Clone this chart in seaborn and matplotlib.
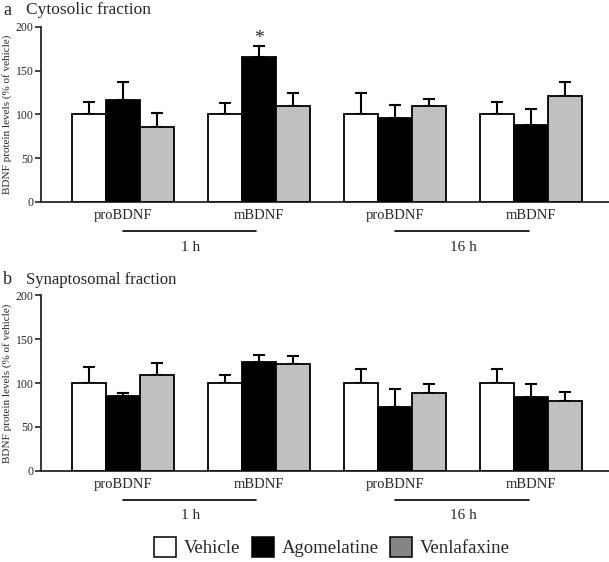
import matplotlib
matplotlib.use("Agg")
import matplotlib.pyplot as plt
import matplotlib.transforms as mtransforms
from matplotlib.patches import Patch
import seaborn as sns
import pandas as pd
import numpy as np

sns.set_style("ticks")
plt.rcParams['font.family'] = ['Liberation Serif', 'DejaVu Serif']

groups = ["proBDNF 1 h", "mBDNF 1 h", "proBDNF 16 h", "mBDNF 16 h"]
group_labels = ["proBDNF", "mBDNF", "proBDNF", "mBDNF"]
treatments = ["Vehicle", "Agomelatine", "Venlafaxine"]
time_labels = ["1 h", "16 h"]

# Panel a: cytosolic fraction (means and upper SEM tips)
cyto_vehicle = [100, 100, 100, 100]
cyto_agomelatine = [117, 166, 96, 88]
cyto_venlafaxine = [86, 110, 110, 121]
cyto_vehicle_err = [14, 13, 25, 14]
cyto_agomelatine_err = [20, 12, 15, 18]
cyto_venlafaxine_err = [16, 15, 8, 16]

# Panel b: synaptosomal fraction
syn_vehicle = [100, 100, 100, 100]
syn_agomelatine = [85, 124, 73, 84]
syn_venlafaxine = [109, 122, 89, 80]
syn_vehicle_err = [18, 9, 16, 16]
syn_agomelatine_err = [4, 8, 20, 15]
syn_venlafaxine_err = [14, 9, 10, 10]

bar_colors = {"Vehicle": "#ffffff", "Agomelatine": "#000000", "Venlafaxine": "#c0c0c0"}
legend_colors = ["#ffffff", "#000000", "#858585"]


def make_df(v, a, vl, ve, ae, vle):
    rows = []
    for tname, vals, errs in zip(treatments, [v, a, vl], [ve, ae, vle]):
        for g, val, e in zip(groups, vals, errs):
            rows.append({"group": g, "treatment": tname, "value": val, "err": e})
    return pd.DataFrame(rows)


df_a = make_df(cyto_vehicle, cyto_agomelatine, cyto_venlafaxine,
               cyto_vehicle_err, cyto_agomelatine_err, cyto_venlafaxine_err)
df_b = make_df(syn_vehicle, syn_agomelatine, syn_venlafaxine,
               syn_vehicle_err, syn_agomelatine_err, syn_venlafaxine_err)

fig = plt.figure(figsize=(6.09, 5.62), dpi=100)
ax_a = fig.add_axes([0.0673, 0.6406, 0.9327, 0.3114])
ax_b = fig.add_axes([0.0673, 0.1625, 0.9327, 0.3120])


def draw(ax, df, star=False):
    sns.barplot(data=df, x="group", y="value", hue="treatment", order=groups,
                hue_order=treatments, palette=bar_colors, errorbar=None,
                width=0.75, edgecolor="black", linewidth=1.3, ax=ax, legend=False,
                zorder=3)
    # error bars (upper only)
    for ti, tname in enumerate(treatments):
        sub = df[df.treatment == tname].set_index("group").loc[groups]
        bars = ax.containers[ti]
        xs = [b.get_x() + b.get_width() / 2 for b in bars]
        ax.errorbar(xs, sub["value"].values,
                    yerr=[np.zeros(len(xs)), sub["err"].values],
                    fmt="none", ecolor="black", elinewidth=1.5, capsize=4,
                    capthick=1.5, zorder=2)
    ax.set_ylim(0, 200)
    ax.set_xlim(-0.6, 3.57)
    ax.set_yticks([0, 50, 100, 150, 200])
    ax.tick_params(axis="y", labelsize=8.5, length=4, width=1.2, direction="out", pad=1.5)
    ax.tick_params(axis="x", length=0, labelsize=10.5, pad=5)
    ax.set_xticks(range(len(groups)))
    ax.set_xticklabels(group_labels)
    ax.set_xlabel("")
    ax.set_ylabel("BDNF protein levels (% of vehicle)", fontsize=8)
    ax.yaxis.set_label_coords(-0.051, 0.5)
    for s in ["top", "right"]:
        ax.spines[s].set_visible(False)
    ax.spines["left"].set_linewidth(1.3)
    ax.spines["bottom"].set_linewidth(1.3)
    trans = mtransforms.blended_transform_factory(ax.transData, ax.transAxes)
    for k, tl in enumerate(time_labels):
        x0, x1 = 2 * k, 2 * k + 1
        ax.plot([x0, x1 - 0.02], [-0.166, -0.166], color="black", lw=1.2,
                transform=trans, clip_on=False)
        ax.text((x0 + x1) / 2, -0.258, tl, transform=trans, ha="center",
                va="center", fontsize=11)
    if star:
        xs = [b.get_x() + b.get_width() / 2 for b in ax.containers[1]]
        ax.text(xs[1], 187, "*", ha="center", va="center", fontsize=14)


draw(ax_a, df_a, star=True)
draw(ax_b, df_b)

fig.text(0.005, 0.982, "a", fontsize=13, va="center", ha="left")
fig.text(0.042, 0.982, "Cytosolic fraction", fontsize=12.5, va="center", ha="left")
fig.text(0.005, 0.502, "b", fontsize=13, va="center", ha="left")
fig.text(0.042, 0.502, "Synaptosomal fraction", fontsize=12, va="center", ha="left")

handles = [Patch(facecolor=c, edgecolor="black", linewidth=1.1) for c in legend_colors]
fig.legend(handles, treatments, loc="center", bbox_to_anchor=(0.545, 0.026),
           ncol=3, frameon=False, fontsize=13.5, handlelength=1.2,
           handleheight=1.2, handletextpad=0.4, columnspacing=0.6)

fig.savefig("out.png", dpi=100)
